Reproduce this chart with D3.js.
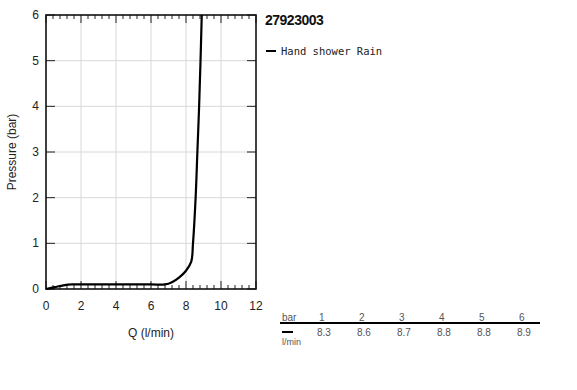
<!DOCTYPE html>
<html>
<head>
<meta charset="utf-8">
<script src="https://cdn.jsdelivr.net/npm/d3@7"></script>
<style>
  body { margin: 0; background: #fff; }
  svg { font-family: "Liberation Sans", Arial, sans-serif; }
</style>
</head>
<body>
<svg id="chart" width="577" height="390"></svg>
<script>
// curve: flow Q (l/min) vs pressure (bar)
const flow = [0, 0.5, 1, 1.5, 2, 4, 6, 6.8, 7.2, 7.6, 8.0, 8.3, 8.4, 8.55, 8.65, 8.75, 8.83, 8.9];
const pressure = [0, 0.04, 0.08, 0.1, 0.1, 0.1, 0.1, 0.1, 0.15, 0.25, 0.4, 0.6, 1.0, 2.0, 3.0, 4.0, 5.0, 6.0];

const xTicks = [0, 2, 4, 6, 8, 10, 12];
const yTicks = [0, 1, 2, 3, 4, 5, 6];

const title = '27923003';
const seriesName = 'Hand shower Rain';

const tableBar = [1, 2, 3, 4, 5, 6];
const tableFlow = ['8.3', '8.6', '8.7', '8.8', '8.8', '8.9'];

const svg = d3.select('#chart');
const plotL = 46, plotR = 256, plotT = 15, plotB = 289;

const x = d3.scaleLinear().domain([0, 12]).range([plotL, plotR]);
const y = d3.scaleLinear().domain([0, 6]).range([plotB, plotT]);

// grid
const g = svg.append('g');
g.selectAll('.gx').data(xTicks.slice(1, -1)).enter().append('line')
  .attr('x1', d => x(d)).attr('x2', d => x(d))
  .attr('y1', plotT).attr('y2', plotB)
  .attr('stroke', '#d8d8d8').attr('stroke-width', 1);
g.selectAll('.gy').data(yTicks.slice(1, -1)).enter().append('line')
  .attr('y1', d => y(d)).attr('y2', d => y(d))
  .attr('x1', plotL).attr('x2', plotR)
  .attr('stroke', '#d8d8d8').attr('stroke-width', 1);

// minor / major ticks on top and bottom, pointing inward
const minor = d3.range(0, 31).map(i => i * 0.4);
const isMajor = i => i % 5 === 0;
[plotB, plotT].forEach(edge => {
  const dir = edge === plotB ? -1 : 1;
  g.selectAll(null).data(minor).enter().append('line')
    .attr('x1', d => x(d)).attr('x2', d => x(d))
    .attr('y1', edge)
    .attr('y2', (d, i) => edge + dir * (isMajor(i) ? 8 : 4))
    .attr('stroke', '#222').attr('stroke-width', 1);
});
// y ticks on both sides, pointing inward
[plotL, plotR].forEach(edge => {
  const dir = edge === plotL ? 1 : -1;
  g.selectAll(null).data(yTicks).enter().append('line')
    .attr('y1', d => y(d)).attr('y2', d => y(d))
    .attr('x1', edge).attr('x2', edge + dir * 9)
    .attr('stroke', '#222').attr('stroke-width', 1);
});

// frame
g.append('rect')
  .attr('x', plotL).attr('y', plotT)
  .attr('width', plotR - plotL).attr('height', plotB - plotT)
  .attr('fill', 'none').attr('stroke', '#111').attr('stroke-width', 1.6);

// tick labels
g.selectAll('.xl').data(xTicks).enter().append('text')
  .attr('x', d => x(d)).attr('y', plotB + 21)
  .attr('text-anchor', 'middle').attr('font-size', 12).attr('fill', '#222')
  .text(d => d);
g.selectAll('.yl').data(yTicks).enter().append('text')
  .attr('x', plotL - 7).attr('y', d => y(d) + 4)
  .attr('text-anchor', 'end').attr('font-size', 12).attr('fill', '#222')
  .text(d => d);

// axis titles
svg.append('text')
  .attr('x', (plotL + plotR) / 2).attr('y', 337)
  .attr('text-anchor', 'middle').attr('font-size', 12).attr('fill', '#222')
  .text('Q (l/min)');
svg.append('text')
  .attr('transform', `translate(16,${(plotT + plotB) / 2}) rotate(-90)`)
  .attr('text-anchor', 'middle').attr('font-size', 12).attr('fill', '#222')
  .text('Pressure (bar)');

// curve
const pts = flow.map((q, i) => [q, pressure[i]]);
svg.append('path')
  .datum(pts)
  .attr('d', d3.line().x(d => x(d[0])).y(d => y(d[1])).curve(d3.curveCatmullRom.alpha(0.5)))
  .attr('fill', 'none').attr('stroke', '#000').attr('stroke-width', 2.2);

// title + legend
svg.append('text')
  .attr('x', 265).attr('y', 25)
  .attr('font-size', 14).attr('font-weight', 'bold').attr('fill', '#111')
  .attr('letter-spacing', -0.5)
  .text(title);
svg.append('line')
  .attr('x1', 266).attr('x2', 276).attr('y1', 51).attr('y2', 51)
  .attr('stroke', '#000').attr('stroke-width', 2);
svg.append('text')
  .attr('x', 281).attr('y', 55)
  .attr('font-family', '"DejaVu Sans Mono", "Liberation Mono", monospace')
  .attr('font-size', 10.5).attr('fill', '#222')
  .text(seriesName);

// table
const colX = d3.scalePoint().domain(tableBar).range([319, 519]);
const tbl = svg.append('g').attr('font-size', 10).attr('fill', '#555');
tbl.append('text').attr('x', 282).attr('y', 321).text('bar');
tbl.selectAll('.tb').data(tableBar).enter().append('text')
  .attr('x', d => colX(d)).attr('y', 321).text(d => d);
svg.append('line')
  .attr('x1', 280).attr('x2', 540).attr('y1', 323).attr('y2', 323)
  .attr('stroke', '#000').attr('stroke-width', 2);
svg.append('line')
  .attr('x1', 282).attr('x2', 293).attr('y1', 332).attr('y2', 332)
  .attr('stroke', '#000').attr('stroke-width', 2);
tbl.selectAll('.tf').data(tableFlow).enter().append('text')
  .attr('x', (d, i) => colX(tableBar[i]) - 2).attr('y', 336).text(d => d);
tbl.append('text').attr('x', 282).attr('y', 345).attr('font-size', 9).text('l/min');
</script>
</body>
</html>
